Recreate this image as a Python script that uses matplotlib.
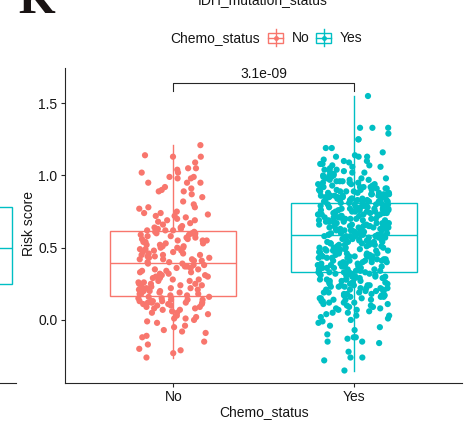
import numpy as np
import matplotlib
matplotlib.use('Agg')
import matplotlib.pyplot as plt
from matplotlib.lines import Line2D
from matplotlib.patches import Rectangle

plt.rcParams['font.family'] = ['Liberation Sans', 'DejaVu Sans']

# groups and colours (ggplot default hues)
groups = ['No', 'Yes']
colors = ['#F8766D', '#00BFC4']

# risk score per patient, chemo = No
no_score = [
    -0.26, -0.23, -0.21, -0.20, -0.17, -0.15, -0.12, -0.11, -0.09, -0.08,
    -0.07, -0.05, -0.04, -0.02, -0.01, 0.00, 0.01, 0.01, 0.02, 0.03,
    0.04, 0.05, 0.05, 0.06, 0.07, 0.07, 0.08, 0.08, 0.09, 0.09,
    0.10, 0.10, 0.11, 0.11, 0.11, 0.12, 0.12, 0.12, 0.12, 0.13,
    0.13, 0.13, 0.13, 0.14, 0.14, 0.14, 0.15, 0.15, 0.16, 0.16,
    0.17, 0.17, 0.18, 0.18, 0.18, 0.19, 0.19, 0.20, 0.20, 0.20,
    0.21, 0.21, 0.22, 0.22, 0.22, 0.23, 0.23, 0.24, 0.24, 0.25,
    0.25, 0.25, 0.26, 0.26, 0.27, 0.27, 0.28, 0.28, 0.29, 0.29,
    0.30, 0.30, 0.31, 0.31, 0.32, 0.32, 0.33, 0.33, 0.34, 0.34,
    0.35, 0.35, 0.36, 0.36, 0.37, 0.37, 0.38, 0.38, 0.39, 0.39,
    0.40, 0.40, 0.41, 0.41, 0.42, 0.42, 0.42, 0.43, 0.43, 0.44,
    0.44, 0.45, 0.45, 0.45, 0.46, 0.46, 0.47, 0.47, 0.48, 0.48,
    0.49, 0.49, 0.50, 0.50, 0.50, 0.51, 0.51, 0.52, 0.52, 0.53,
    0.53, 0.54, 0.54, 0.55, 0.55, 0.55, 0.56, 0.56, 0.57, 0.57,
    0.58, 0.58, 0.59, 0.59, 0.59, 0.60, 0.60, 0.60, 0.61, 0.61,
    0.62, 0.62, 0.62, 0.63, 0.63, 0.64, 0.64, 0.65, 0.66, 0.67,
    0.68, 0.69, 0.69, 0.70, 0.71, 0.72, 0.72, 0.73, 0.74, 0.74,
    0.75, 0.77, 0.78, 0.78, 0.80, 0.82, 0.85, 0.87, 0.89, 0.89,
    0.90, 0.91, 0.92, 0.95, 0.95, 0.95, 0.98, 0.98, 0.99, 0.99,
    1.02, 1.02, 1.04, 1.05, 1.05, 1.09, 1.13, 1.13, 1.14, 1.21,
]

# risk score per patient, chemo = Yes
yes_score = [
    -0.35, -0.28, -0.26, -0.26, -0.22, -0.16, -0.15, -0.15, -0.13, -0.12,
    -0.12, -0.10, -0.07, -0.05, -0.04, -0.02, -0.01, 0.00, 0.01, 0.02,
    0.03, 0.03, 0.04, 0.05, 0.05, 0.06, 0.07, 0.07, 0.08, 0.08,
    0.09, 0.09, 0.10, 0.10, 0.11, 0.11, 0.12, 0.12, 0.12, 0.13,
    0.13, 0.14, 0.14, 0.14, 0.15, 0.15, 0.15, 0.16, 0.16, 0.16,
    0.17, 0.17, 0.17, 0.18, 0.18, 0.18, 0.19, 0.19, 0.19, 0.20,
    0.20, 0.20, 0.21, 0.21, 0.21, 0.22, 0.22, 0.22, 0.22, 0.23,
    0.23, 0.23, 0.24, 0.24, 0.24, 0.24, 0.25, 0.25, 0.25, 0.26,
    0.26, 0.26, 0.26, 0.27, 0.27, 0.27, 0.28, 0.28, 0.28, 0.28,
    0.29, 0.29, 0.29, 0.29, 0.30, 0.30, 0.30, 0.30, 0.31, 0.31,
    0.31, 0.31, 0.32, 0.32, 0.32, 0.32, 0.33, 0.33, 0.33, 0.33,
    0.33, 0.34, 0.34, 0.34, 0.35, 0.35, 0.35, 0.35, 0.36, 0.36,
    0.36, 0.36, 0.37, 0.37, 0.37, 0.37, 0.38, 0.38, 0.38, 0.38,
    0.39, 0.39, 0.39, 0.39, 0.39, 0.40, 0.40, 0.40, 0.40, 0.41,
    0.41, 0.41, 0.41, 0.42, 0.42, 0.42, 0.42, 0.43, 0.43, 0.43,
    0.43, 0.44, 0.44, 0.44, 0.44, 0.44, 0.45, 0.45, 0.45, 0.45,
    0.46, 0.46, 0.46, 0.46, 0.47, 0.47, 0.47, 0.47, 0.48, 0.48,
    0.48, 0.48, 0.48, 0.49, 0.49, 0.49, 0.49, 0.50, 0.50, 0.50,
    0.50, 0.51, 0.51, 0.51, 0.51, 0.52, 0.52, 0.52, 0.52, 0.53,
    0.53, 0.53, 0.53, 0.53, 0.54, 0.54, 0.54, 0.54, 0.55, 0.55,
    0.55, 0.55, 0.56, 0.56, 0.56, 0.56, 0.57, 0.57, 0.57, 0.57,
    0.57, 0.58, 0.58, 0.58, 0.58, 0.58, 0.58, 0.58, 0.59, 0.59,
    0.59, 0.59, 0.59, 0.59, 0.60, 0.60, 0.60, 0.60, 0.60, 0.61,
    0.61, 0.61, 0.61, 0.61, 0.62, 0.62, 0.62, 0.62, 0.62, 0.63,
    0.63, 0.63, 0.63, 0.63, 0.64, 0.64, 0.64, 0.64, 0.64, 0.65,
    0.65, 0.65, 0.65, 0.65, 0.66, 0.66, 0.66, 0.66, 0.67, 0.67,
    0.67, 0.67, 0.67, 0.68, 0.68, 0.68, 0.68, 0.68, 0.69, 0.69,
    0.69, 0.69, 0.69, 0.70, 0.70, 0.70, 0.70, 0.70, 0.71, 0.71,
    0.71, 0.71, 0.71, 0.72, 0.72, 0.72, 0.72, 0.73, 0.73, 0.73,
    0.73, 0.73, 0.74, 0.74, 0.74, 0.74, 0.74, 0.75, 0.75, 0.75,
    0.75, 0.75, 0.76, 0.76, 0.76, 0.76, 0.76, 0.77, 0.77, 0.77,
    0.77, 0.77, 0.78, 0.78, 0.78, 0.78, 0.79, 0.79, 0.79, 0.79,
    0.79, 0.80, 0.80, 0.80, 0.80, 0.80, 0.81, 0.81, 0.81, 0.81,
    0.82, 0.82, 0.82, 0.82, 0.82, 0.82, 0.83, 0.83, 0.83, 0.83,
    0.83, 0.83, 0.84, 0.84, 0.84, 0.84, 0.84, 0.84, 0.85, 0.85,
    0.85, 0.85, 0.85, 0.85, 0.86, 0.86, 0.86, 0.86, 0.86, 0.86,
    0.87, 0.87, 0.87, 0.87, 0.87, 0.88, 0.88, 0.88, 0.88, 0.89,
    0.89, 0.89, 0.89, 0.90, 0.90, 0.90, 0.90, 0.91, 0.91, 0.91,
    0.92, 0.92, 0.92, 0.92, 0.93, 0.93, 0.93, 0.94, 0.94, 0.94,
    0.95, 0.95, 0.95, 0.96, 0.96, 0.96, 0.97, 0.97, 0.97, 0.98,
    0.98, 0.98, 0.99, 0.99, 1.00, 1.00, 1.00, 1.01, 1.01, 1.02,
    1.02, 1.03, 1.03, 1.04, 1.04, 1.05, 1.06, 1.06, 1.07, 1.07,
    1.08, 1.08, 1.09, 1.10, 1.10, 1.11, 1.13, 1.13, 1.13, 1.14,
    1.16, 1.19, 1.19, 1.25, 1.25, 1.29, 1.33, 1.33, 1.33, 1.55,
]

p_label = '3.1e-09'
y_ticks = [0.0, 0.5, 1.0, 1.5]

# box of the neighbouring panel, only its right edge is on the canvas
side_q1, side_med, side_q3 = 0.25, 0.50, 0.785

W, H = 468, 423
fig = plt.figure(figsize=(W / 100, H / 100), dpi=100)


def px_rect(x0, y0, x1, y1):
    # pixel box measured from the top-left corner -> figure fraction rect
    return [x0 / W, 1 - y1 / H, (x1 - x0) / W, (y1 - y0) / H]


def fx(x):
    return x / W


def fy(y):
    return 1 - y / H


ylim = (-0.433, 1.744)
dark = '#262626'
txt = '#151515'
fs = 10

# main panel
ax = fig.add_axes(px_rect(65, 68, 462, 382.5))
data = [no_score, yes_score]
bp = ax.boxplot(data, positions=[1, 2], widths=0.7, whis=(0, 100),
                showfliers=False, showcaps=False, patch_artist=True)
for i, c in enumerate(colors):
    bp['boxes'][i].set(facecolor='white', edgecolor=c, linewidth=1.0)
    bp['medians'][i].set(color=c, linewidth=1.0)
    for w in bp['whiskers'][2 * i:2 * i + 2]:
        w.set(color=c, linewidth=1.0)

# jittered points on top of the boxes
rng = np.random.default_rng(11)
for i, (vals, c) in enumerate(zip(data, colors)):
    xj = (i + 1) + rng.uniform(-0.2, 0.2, len(vals))
    ax.scatter(xj, vals, s=20, color=c, edgecolors='none', zorder=3)

ax.set_xlim(0.4, 2.6)
ax.set_ylim(*ylim)
ax.set_yticks(y_ticks)
ax.set_yticklabels(['%.1f' % t for t in y_ticks])
ax.set_xticks([1, 2])
ax.set_xticklabels(groups)
for s in ['top', 'right']:
    ax.spines[s].set_visible(False)
for s in ['left', 'bottom']:
    ax.spines[s].set_color(dark)
    ax.spines[s].set_linewidth(0.8)
ax.tick_params(length=3, width=0.8, color=dark, labelsize=fs, labelcolor=txt, pad=2.5)

# comparison bracket
ax.plot([1, 1, 2, 2], [1.586, 1.641, 1.641, 1.586], color=dark, lw=0.8, clip_on=False)
ax.text(1.5, 1.657, p_label, ha='center', va='bottom', fontsize=fs, color=txt)

fig.text(fx(29), fy(224), 'Risk score', rotation=90, ha='center', va='center',
         fontsize=fs, color=txt)
fig.text(fx(264), fy(412.5), 'Chemo_status', ha='center', va='center',
         fontsize=fs, color=txt)

# neighbouring panel fragment on the left
ax2 = fig.add_axes(px_rect(-150, 68, 16, 382.5))
ax2.bxp([{'q1': side_q1, 'med': side_med, 'q3': side_q3,
          'whislo': side_q1, 'whishi': side_q3, 'fliers': []}],
        positions=[0.595], widths=0.765, showcaps=False, showfliers=False,
        patch_artist=True,
        boxprops=dict(facecolor='white', edgecolor=colors[1], linewidth=1.0),
        medianprops=dict(color=colors[1], linewidth=1.0))
ax2.set_xlim(0, 1)
ax2.set_ylim(*ylim)
for s in ['top', 'right', 'left']:
    ax2.spines[s].set_visible(False)
ax2.spines['bottom'].set_color(dark)
ax2.spines['bottom'].set_linewidth(0.8)
ax2.set_xticks([])
ax2.set_yticks([])

# panel letter and title, both clipped by the top edge
fig.text(fx(18), fy(13), 'K', family='Liberation Serif', weight='bold',
         fontsize=34, ha='left', va='baseline', color='#1a1414')
fig.text(fx(263), fy(4), 'IDH_mutation_status', ha='center', va='baseline',
         fontsize=fs, color=txt)

# legend
fig.text(fx(170), fy(38), 'Chemo_status', ha='left', va='center', fontsize=fs, color=txt)


def legend_key(x0, c):
    xm = x0 + 7.5
    fig.add_artist(Line2D([fx(xm), fx(xm)], [fy(29.5), fy(46.5)], color=c, lw=1.0))
    fig.add_artist(Rectangle((fx(x0), fy(43)), 15 / W, 10 / H, facecolor='white',
                             edgecolor=c, lw=1.0, transform=fig.transFigure))
    fig.add_artist(Line2D([fx(x0), fx(x0 + 15)], [fy(38), fy(38)], color=c, lw=1.0))
    fig.add_artist(Line2D([fx(xm)], [fy(38)], marker='o', ms=3.5, color=c, mec='none'))


legend_key(268, colors[0])
fig.text(fx(292), fy(38), groups[0], ha='left', va='center', fontsize=fs, color=txt)
legend_key(316, colors[1])
fig.text(fx(340), fy(38), groups[1], ha='left', va='center', fontsize=fs, color=txt)

fig.savefig('out.png', dpi=100)
